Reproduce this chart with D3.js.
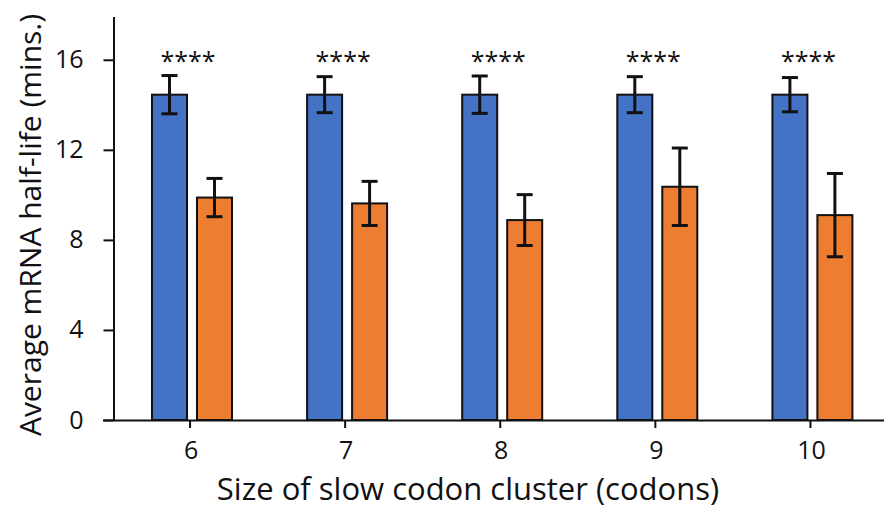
<!DOCTYPE html>
<html><head><meta charset="utf-8">
<script src="https://cdn.jsdelivr.net/npm/d3@7"></script>
<style>body{margin:0;background:#fff}svg{display:block}text{font-family:"Open Sans",sans-serif;fill:#111}</style>
</head><body>
<script>
const categories = ["6","7","8","9","10"];
const seriesNames = ["A","B"];
const blueValues = [14.45, 14.45, 14.45, 14.45, 14.45];
const blueErr = [0.85, 0.8, 0.83, 0.8, 0.76];
const orangeValues = [9.88, 9.62, 8.88, 10.36, 9.1];
const orangeErr = [0.85, 0.98, 1.13, 1.72, 1.85];
const sigLabels = ["****","****","****","****","****"];
const yTicks = [0,4,8,12,16];

const W = 884, H = 509;
const svg = d3.select("body").append("svg").attr("width", W).attr("height", H);
const mLeft = 113.5, mRight = 889, mTop = 17, mBottom = 420;
const y = d3.scaleLinear().domain([0,17.9]).range([mBottom, mTop]);
const x0 = d3.scaleBand().domain(categories).range([mLeft, mRight]).padding(0);
const x1 = d3.scaleBand().domain(seriesNames).range([38.5, 118.5]).paddingInner(0.222).paddingOuter(0);
const colors = {A:"#4472C4", B:"#ED7D31"};

const rows = categories.map((c,i)=>({c, A:{v:blueValues[i], e:blueErr[i]}, B:{v:orangeValues[i], e:orangeErr[i]}, sig:sigLabels[i]}));

const g = svg.append("g");
const groups = g.selectAll("g.grp").data(rows).join("g").attr("transform", d=>`translate(${x0(d.c)},0)`);
seriesNames.forEach(s=>{
  groups.append("rect")
    .attr("x", x1(s)).attr("width", x1.bandwidth())
    .attr("y", d=>y(d[s].v)).attr("height", d=>y(0)-y(d[s].v))
    .attr("fill", colors[s]).attr("stroke", "#111").attr("stroke-width", 2);
  const cx = x1(s) + x1.bandwidth()/2;
  groups.append("line").attr("x1", cx).attr("x2", cx)
    .attr("y1", d=>y(d[s].v+d[s].e)).attr("y2", d=>y(d[s].v-d[s].e))
    .attr("stroke","#111").attr("stroke-width",3);
  [1,-1].forEach(k=>{
    groups.append("line").attr("x1", cx-8).attr("x2", cx+8)
      .attr("y1", d=>y(d[s].v+k*d[s].e)).attr("y2", d=>y(d[s].v+k*d[s].e))
      .attr("stroke","#111").attr("stroke-width",3);
  });
});
groups.append("text").attr("x", x0.bandwidth()/2 - 3).attr("y", 70)
  .attr("text-anchor","middle").attr("font-size", 25).text(d=>d.sig);

// axes
const yAxis = svg.append("g").attr("transform", `translate(${mLeft},0)`)
  .call(d3.axisLeft(y).tickValues(yTicks).tickSize(10).tickPadding(20).tickSizeOuter(0));
yAxis.select(".domain").attr("d", `M0.5,${mTop}V${mBottom}`);
const xAxis = svg.append("g").attr("transform", `translate(0,${mBottom})`)
  .call(d3.axisBottom(x0).tickSize(8).tickPadding(13).tickSizeOuter(0));
xAxis.select(".domain").attr("d", `M103,0.5H884`);
[yAxis, xAxis].forEach(a=>{
  a.selectAll("path,line").attr("stroke","#111").attr("stroke-width",2);
  a.selectAll("text").attr("font-size",25).attr("fill","#111").attr("font-family","Open Sans, sans-serif");
});
xAxis.selectAll(".tick line").attr("transform","translate(-1,0)");

svg.append("text").attr("x", 468).attr("y", 500).attr("text-anchor","middle")
  .attr("font-size", 31).text("Size of slow codon cluster (codons)");
svg.append("text").attr("transform", "translate(41,225) rotate(-90)").attr("text-anchor","middle")
  .attr("font-size", 30).text("Average mRNA half-life (mins.)");
</script>
</body></html>
